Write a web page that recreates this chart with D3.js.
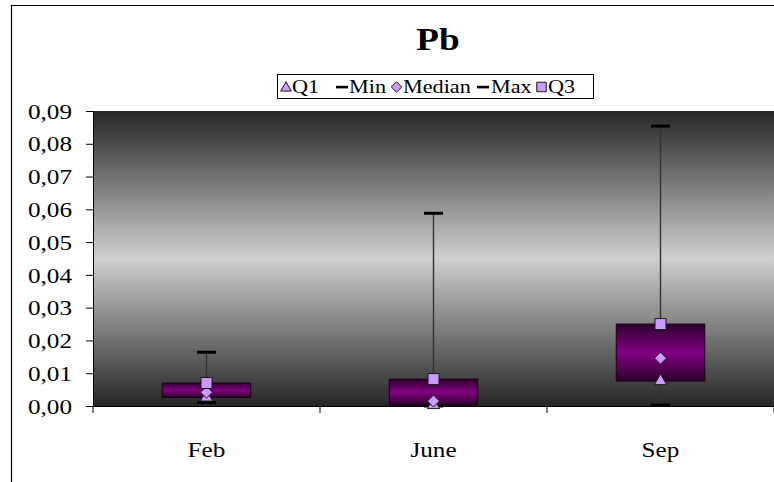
<!DOCTYPE html>
<html>
<head>
<meta charset="utf-8">
<script src="https://cdn.jsdelivr.net/npm/d3@7"></script>
<style>
  html, body { margin: 0; padding: 0; background: #fff; }
  svg { display: block; font-family: "Liberation Serif", "Times New Roman", serif; }
</style>
</head>
<body>
<svg id="chart" width="774" height="482"></svg>
<script>
// Lead (Pb) concentrations per sampling month: box = Q1..Q3, whiskers = Min..Max
const months = ["Feb", "June", "Sep"];
const q1Values = [0.0026, 0.0003, 0.0076];
const minValues = [0.0011, 0.0, 0.0003];
const medianValues = [0.0042, 0.0015, 0.0146];
const maxValues = [0.0164, 0.0588, 0.0854];
const q3Values = [0.0070, 0.0082, 0.0250];
const yTicks = [0, 0.01, 0.02, 0.03, 0.04, 0.05, 0.06, 0.07, 0.08, 0.09];

const svg = d3.select("#chart");
const plot = { left: 93, right: 774, top: 111, bottom: 406 };
const WIDEN = 1.2; // horizontal stretch applied to all labels

const x = d3.scaleBand().domain(months).range([plot.left, plot.right]).paddingInner(0).paddingOuter(0);
const y = d3.scaleLinear().domain([0, 0.09]).range([plot.bottom, plot.top]);

const markerFill = "#cc99ff";
const markerStroke = "#1a1a1a";

// rotated-square diamond symbol
const squareDiamond = {
  draw(ctx, size) {
    const r = Math.sqrt(size) / Math.SQRT2 * Math.SQRT2 / 2 * Math.SQRT2;
    ctx.moveTo(0, -r); ctx.lineTo(r, 0); ctx.lineTo(0, r); ctx.lineTo(-r, 0); ctx.closePath();
  }
};

function label(parent, px, py, str, size, anchor, weight) {
  return parent.append("text")
    .attr("transform", `translate(${px},${py}) scale(${WIDEN},1)`)
    .attr("text-anchor", anchor || "start")
    .attr("font-size", size)
    .attr("font-weight", weight || "normal")
    .attr("fill", "#000")
    .text(str);
}

// outer chart frame
svg.append("path")
  .attr("d", "M11.5,482 L11.5,5.5 L774,5.5")
  .attr("fill", "none").attr("stroke", "#000").attr("stroke-width", 1.2);

const defs = svg.append("defs");
const bg = defs.append("linearGradient").attr("id", "bgGrad").attr("x1", 0).attr("y1", 0).attr("x2", 0).attr("y2", 1);
bg.append("stop").attr("offset", "0").attr("stop-color", "#262626");
bg.append("stop").attr("offset", "0.5").attr("stop-color", "#cfcfcf");
bg.append("stop").attr("offset", "1").attr("stop-color", "#262626");

const boxGrad = defs.append("linearGradient").attr("id", "boxGrad").attr("x1", 0).attr("y1", 0).attr("x2", 0).attr("y2", 1);
boxGrad.append("stop").attr("offset", "0").attr("stop-color", "#2c002c");
boxGrad.append("stop").attr("offset", "0.5").attr("stop-color", "#820082");
boxGrad.append("stop").attr("offset", "1").attr("stop-color", "#2c002c");

// plot background
svg.append("rect")
  .attr("x", plot.left).attr("y", plot.top)
  .attr("width", plot.right - plot.left).attr("height", plot.bottom - plot.top)
  .attr("fill", "url(#bgGrad)");

// title
label(svg, 438, 50, "Pb", 31, "middle", "bold");

// y axis
const yAxis = d3.axisLeft(y).tickValues(yTicks).tickSize(7)
  .tickFormat(d => d3.format(".2f")(d).replace(".", ","));
const gy = svg.append("g").attr("transform", `translate(${plot.left},0)`).call(yAxis);
gy.select(".domain").attr("stroke", "#000");
gy.selectAll(".tick line").attr("stroke", "#000");
gy.selectAll(".tick text")
  .attr("x", -21 / WIDEN).attr("dy", "0.34em")
  .attr("transform", `scale(${WIDEN},1)`)
  .attr("font-size", 21).attr("fill", "#000")
  .attr("font-family", "Liberation Serif, serif");

// x axis with ticks at category boundaries
const gx = svg.append("g").attr("transform", `translate(0,${plot.bottom})`);
gx.append("line").attr("x1", plot.left).attr("x2", plot.right).attr("y1", 0.5).attr("y2", 0.5).attr("stroke", "#000");
const bounds = months.map(m => x(m)).concat([x(months[months.length - 1]) + x.bandwidth()]);
gx.selectAll("line.bt").data(bounds).join("line").attr("class", "bt")
  .attr("x1", d => d).attr("x2", d => d).attr("y1", 0).attr("y2", 7).attr("stroke", "#000");
months.forEach(m => label(gx, x(m) + x.bandwidth() / 2, 51, m, 21, "middle"));

const boxW = x.bandwidth() * 0.39;
const cx = i => x(months[i]) + x.bandwidth() / 2;

// high-low whisker lines
svg.append("g").selectAll("line").data(months).join("line")
  .attr("x1", (d, i) => cx(i)).attr("x2", (d, i) => cx(i))
  .attr("y1", (d, i) => y(minValues[i])).attr("y2", (d, i) => y(maxValues[i]))
  .attr("stroke", "#333").attr("stroke-width", 1.4);

// Q1..Q3 boxes
svg.append("g").selectAll("rect").data(months).join("rect")
  .attr("x", (d, i) => cx(i) - boxW / 2)
  .attr("y", (d, i) => y(q3Values[i]))
  .attr("width", boxW)
  .attr("height", (d, i) => y(q1Values[i]) - y(q3Values[i]))
  .attr("fill", "url(#boxGrad)").attr("stroke", "#1a001a").attr("stroke-width", 1);

// min / max dash markers
function dashes(values) {
  svg.append("g").selectAll("rect").data(values).join("rect")
    .attr("x", (d, i) => cx(i) - 9.5).attr("y", d => y(d) - 1.5)
    .attr("width", 19).attr("height", 3).attr("fill", "#000");
}
dashes(minValues);
dashes(maxValues);

// point markers
function markers(values, type, size) {
  svg.append("g").selectAll("path").data(values).join("path")
    .attr("transform", (d, i) => `translate(${cx(i)},${y(d)})`)
    .attr("d", d3.symbol().type(type).size(size))
    .attr("fill", markerFill).attr("stroke", markerStroke).attr("stroke-width", 1);
}
markers(q1Values, d3.symbolTriangle, 66);
markers(medianValues, squareDiamond, 72);
markers(q3Values, d3.symbolSquare, 121);

// legend
const legend = svg.append("g");
legend.append("rect")
  .attr("x", 277.5).attr("y", 74.5).attr("width", 316).attr("height", 24)
  .attr("fill", "#fff").attr("stroke", "#000").attr("stroke-width", 1);
const entries = [
  { label: "Q1", kind: "tri", mx: 286, tx: 292 },
  { label: "Min", kind: "dash", mx: 342, tx: 349 },
  { label: "Median", kind: "dia", mx: 396.5, tx: 403 },
  { label: "Max", kind: "dash", mx: 483, tx: 491 },
  { label: "Q3", kind: "sq", mx: 541.5, tx: 548 }
];
const ly = 87;
entries.forEach(e => {
  if (e.kind === "dash") {
    legend.append("rect").attr("x", e.mx - 6).attr("y", ly - 1.2).attr("width", 12).attr("height", 2.6).attr("fill", "#000");
  } else {
    const t = e.kind === "tri" ? d3.symbolTriangle : e.kind === "dia" ? squareDiamond : d3.symbolSquare;
    const s = e.kind === "sq" ? 90 : e.kind === "dia" ? 55 : 50;
    legend.append("path")
      .attr("transform", `translate(${e.mx},${ly + (e.kind === "tri" ? 1 : 0)})`)
      .attr("d", d3.symbol().type(t).size(s))
      .attr("fill", markerFill).attr("stroke", markerStroke).attr("stroke-width", 1);
  }
  label(legend, e.tx, ly + 6, e.label, 18.5, "start");
});
</script>
</body>
</html>
